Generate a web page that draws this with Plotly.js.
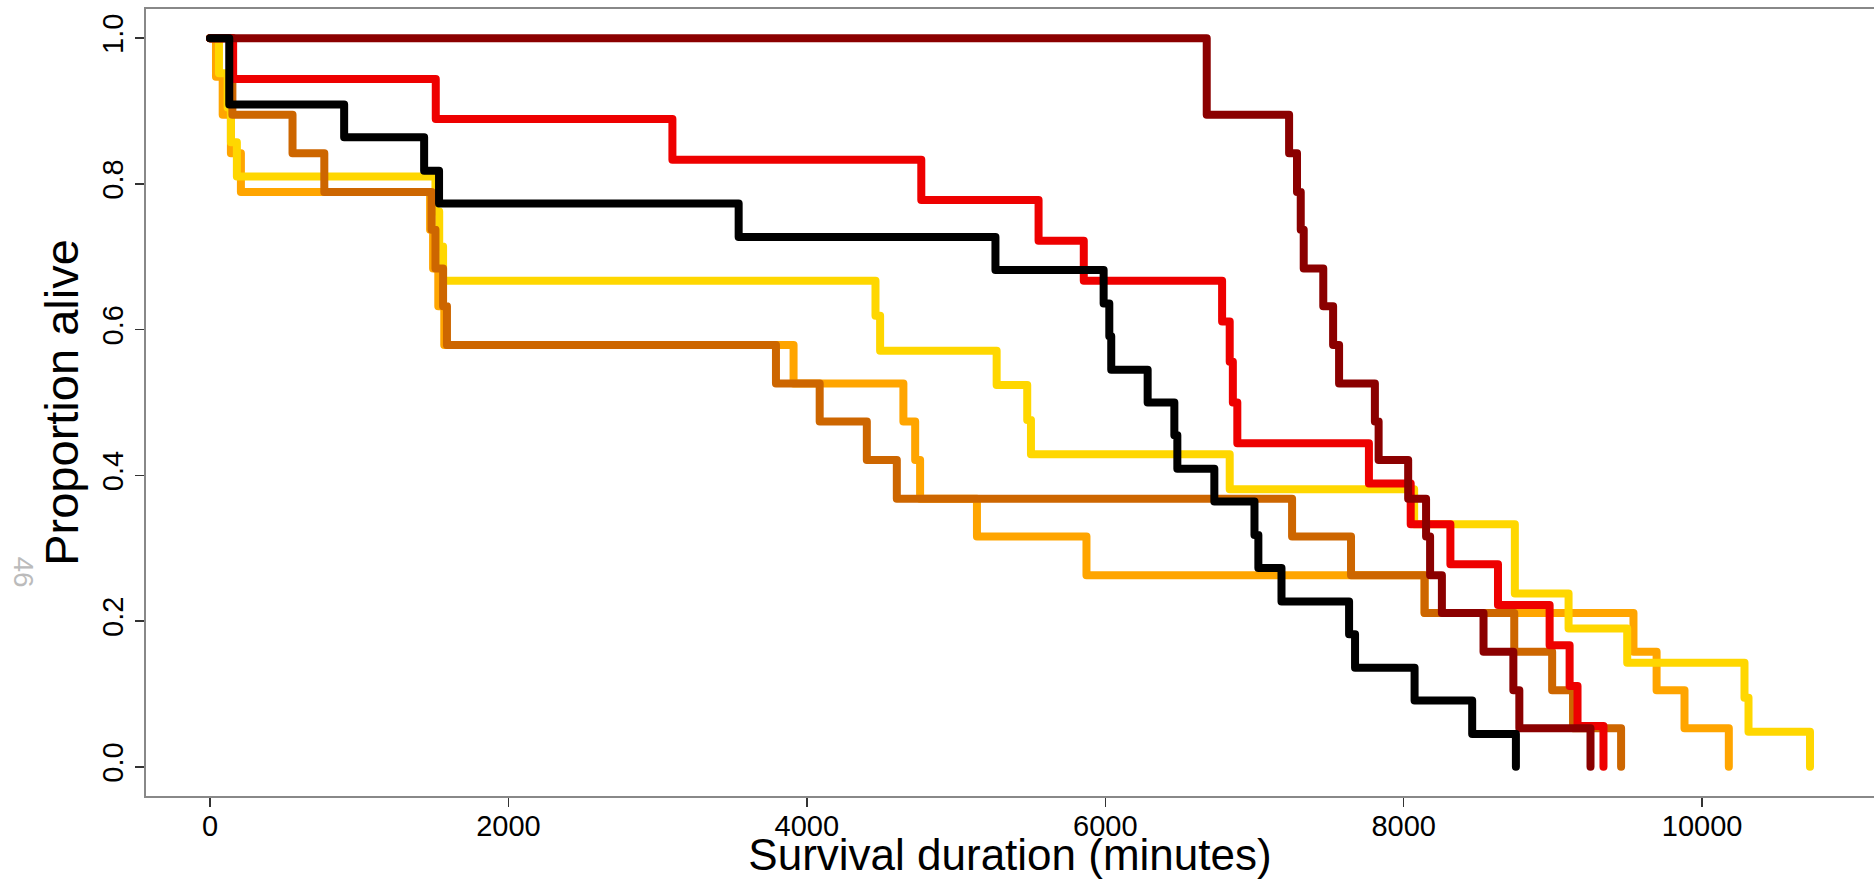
<!DOCTYPE html>
<html>
<head>
<meta charset="utf-8">
<script src="https://cdn.plot.ly/plotly-3.0.1.min.js"></script>
<style>
  html, body { margin: 0; padding: 0; background: #fff; }
  #chart { width: 1874px; height: 879px; }
  .scatterlayer .js-line { stroke-linecap: round !important; stroke-linejoin: round !important; }
</style>
</head>
<body>
<div id="chart"></div>
<script>
// Kaplan-Meier survival curves: event times (minutes) and the proportion alive after each step.
const blackTimes = [129, 899, 1435, 1535, 3543, 5264, 5989, 6027, 6040, 6284, 6463, 6483, 6731, 7000, 7026, 7181, 7634, 7674, 8073, 8459, 8752];
const blackSurv  = [0.909, 0.864, 0.818, 0.773, 0.727, 0.682, 0.636, 0.591, 0.545, 0.500, 0.455, 0.409, 0.364, 0.318, 0.273, 0.227, 0.182, 0.136, 0.091, 0.045, 0.000];

const redTimes = [155, 1513, 3099, 4767, 5553, 5856, 6783, 6834, 6855, 6885, 7767, 8047, 8313, 8632, 8978, 9112, 9165, 9339];
const redSurv  = [0.944, 0.889, 0.833, 0.778, 0.722, 0.667, 0.611, 0.556, 0.500, 0.444, 0.389, 0.333, 0.278, 0.222, 0.167, 0.111, 0.056, 0.000];

const darkredTimes = [6680, 7232, 7285, 7310, 7330, 7461, 7527, 7567, 7807, 7832, 8030, 8150, 8177, 8256, 8535, 8735, 8775, 9252];
const darkredSurv  = [0.895, 0.842, 0.789, 0.737, 0.684, 0.632, 0.579, 0.526, 0.474, 0.421, 0.368, 0.316, 0.263, 0.211, 0.158, 0.105, 0.053, 0.000];

const goldTimes = [60, 118, 140, 180, 1511, 1536, 1562, 4460, 4491, 5272, 5477, 5502, 6834, 8070, 8745, 9105, 9498, 10284, 10311, 10723];
const goldSurv  = [0.952, 0.905, 0.857, 0.810, 0.762, 0.714, 0.667, 0.619, 0.571, 0.524, 0.476, 0.429, 0.381, 0.333, 0.238, 0.190, 0.143, 0.095, 0.048, 0.000];

const orangeTimes = [40, 85, 140, 207, 1475, 1495, 1530, 1570, 3911, 4647, 4726, 4759, 5140, 5874, 8140, 9540, 9695, 9882, 10179];
const orangeSurv  = [0.947, 0.895, 0.842, 0.789, 0.737, 0.684, 0.632, 0.579, 0.526, 0.474, 0.421, 0.368, 0.316, 0.263, 0.211, 0.158, 0.105, 0.053, 0.000];

const darkorangeTimes = [150, 553, 766, 1485, 1511, 1562, 1588, 3793, 4086, 4402, 4603, 7252, 7647, 8140, 8741, 8995, 9135, 9457];
const darkorangeSurv  = [0.895, 0.842, 0.789, 0.737, 0.684, 0.632, 0.579, 0.526, 0.474, 0.421, 0.368, 0.316, 0.263, 0.211, 0.158, 0.105, 0.053, 0.000];

const xTicks = [0, 2000, 4000, 6000, 8000, 10000];
const xTickLabels = ["0", "2000", "4000", "6000", "8000", "10000"];
const yTicks = [0, 0.2, 0.4, 0.6, 0.8, 1.0];
const yTickLabels = ["0.0", "0.2", "0.4", "0.6", "0.8", "1.0"];

// Drawing order: later curves sit on top.
const curves = [
  { times: orangeTimes, surv: orangeSurv, color: "#FFA500" },
  { times: goldTimes, surv: goldSurv, color: "#FFD700" },
  { times: darkorangeTimes, surv: darkorangeSurv, color: "#CD6600" },
  { times: redTimes, surv: redSurv, color: "#EE0000" },
  { times: darkredTimes, surv: darkredSurv, color: "#8B0000" },
  { times: blackTimes, surv: blackSurv, color: "#000000" }
];

const font = "'Liberation Sans', Arial, sans-serif";

const traces = curves.map(c => ({
  type: "scatter",
  mode: "lines",
  x: [0].concat(c.times),
  y: [1].concat(c.surv),
  line: { color: c.color, width: 8, shape: "hv" },
  hoverinfo: "x+y",
  showlegend: false
}));

const layout = {
  width: 1874,
  height: 879,
  margin: { l: 146, r: 0, t: 9, b: 83 },
  paper_bgcolor: "#ffffff",
  plot_bgcolor: "#ffffff",
  showlegend: false,
  font: { family: font, color: "#000000" },
  xaxis: {
    range: [-429, 11152],
    tickmode: "array",
    tickvals: xTicks,
    ticktext: xTickLabels,
    ticks: "outside",
    ticklen: 9,
    tickwidth: 1.5,
    tickcolor: "#333333",
    ticklabelstandoff: -6,
    tickfont: { family: font, size: 29, color: "#000000" },
    showline: true,
    mirror: true,
    linecolor: "#888888",
    linewidth: 2,
    showgrid: false,
    zeroline: false,
    automargin: false,
    title: { text: "Survival duration (minutes)", font: { family: font, size: 44, color: "#000000" }, standoff: 9 }
  },
  yaxis: {
    range: [-0.04, 1.04],
    tickmode: "array",
    tickvals: yTicks,
    ticktext: yTickLabels,
    tickangle: -90,
    ticks: "outside",
    ticklen: 9,
    tickwidth: 1.5,
    tickcolor: "#333333",
    tickfont: { family: font, size: 29, color: "#000000" },
    showline: true,
    mirror: true,
    linecolor: "#888888",
    linewidth: 2,
    showgrid: false,
    zeroline: false,
    automargin: false,
    title: { text: "Proportion alive", font: { family: font, size: 47, color: "#000000" }, standoff: 4 }
  },
  annotations: [
    {
      text: "46",
      xref: "paper", yref: "paper",
      x: -0.071, y: 0.285,
      xanchor: "center", yanchor: "middle",
      showarrow: false,
      textangle: 90,
      font: { family: font, size: 28, color: "#BBBBBB" }
    }
  ]
};

Plotly.newPlot("chart", traces, layout, { displayModeBar: false, staticPlot: true });
</script>
</body>
</html>
